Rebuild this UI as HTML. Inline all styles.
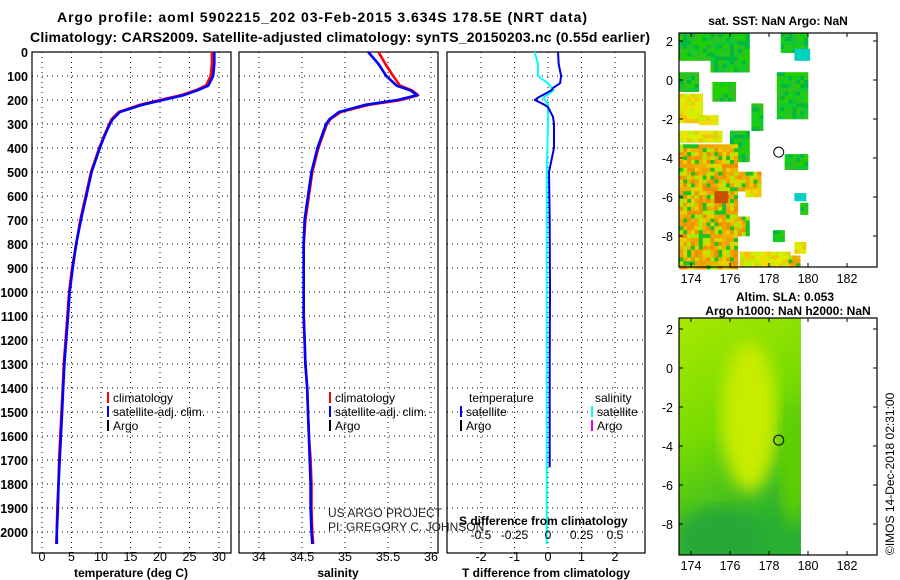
<!DOCTYPE html>
<html><head><meta charset="utf-8"><style>
body{margin:0;background:#fff}
svg{display:block;font-family:"Liberation Sans",sans-serif}
.b{font-weight:bold;font-size:12px}
</style></head><body>
<svg id="c" width="900" height="580" viewBox="0 0 900 580">
<defs>
<linearGradient id="g2" x1="0" y1="0" x2="0.3" y2="1"><stop offset="0" stop-color="#a8e800"/><stop offset="0.5" stop-color="#78dc00"/><stop offset="1" stop-color="#28b030"/></linearGradient>
<filter id="bl"><feGaussianBlur stdDeviation="8"/></filter>
<clipPath id="m2c"><rect x="679" y="318" width="122" height="237"/></clipPath>
</defs>
<text x="57" y="22" class="b" style="font-size:14px" textLength="530">Argo profile: aoml 5902215_202 03-Feb-2015 3.634S 178.5E (NRT data)</text>
<text x="30" y="42" class="b" style="font-size:14px" textLength="620">Climatology: CARS2009. Satellite-adjusted climatology: synTS_20150203.nc (0.55d earlier)</text>
<g id="plots"></g>
</svg>
<script>
// ---- data ----
const depthT = [0,50,100,140,160,180,200,220,250,280,300,350,400,500,600,700,800,900,1000,1100,1200,1300,1400,1500,1600,1700,1800,1900,2000,2050];
const tempSat = [29.2,29.2,29.0,28.2,26.3,24.0,20.5,17.0,13.2,12.0,11.5,10.6,9.8,8.4,7.5,6.6,5.8,5.2,4.7,4.4,4.1,3.8,3.6,3.4,3.2,3.0,2.8,2.7,2.5,2.5];
const tempClim = [28.8,28.8,28.6,27.8,26.0,23.6,20.0,16.6,13.0,11.8,11.4,10.5,9.7,8.3,7.4,6.5,5.8,5.1,4.6,4.3,4.0,3.7,3.5,3.3,3.1,2.9,2.8,2.6,2.5,2.4];
const salSat = [35.27,35.39,35.48,35.6,35.76,35.84,35.61,35.24,34.93,34.82,34.78,34.73,34.68,34.61,34.57,34.53,34.52,34.52,34.52,34.52,34.53,34.54,34.56,34.57,34.58,34.59,34.6,34.6,34.61,34.62];
const salClim = [35.39,35.47,35.56,35.64,35.78,35.85,35.65,35.28,34.95,34.83,34.79,34.74,34.69,34.62,34.58,34.54,34.52,34.52,34.52,34.52,34.53,34.54,34.56,34.57,34.58,34.6,34.61,34.61,34.62,34.63];
const depthD = [0,50,100,130,150,160,190,200,220,230,270,300,400,500,700,1000,1300,1500,1730];
const tDiff = [0.3,0.32,0.39,0.36,0.15,0.1,-0.3,-0.39,-0.1,0.0,0.15,0.18,0.18,0.03,0.05,0.06,0.05,0.05,0.05];
const depthS = [0,50,100,130,160,190,220,300,500,1000,1500,2050];
const sDiff = [-0.1,-0.075,-0.075,0,0.04,-0.035,0,0,-0.01,-0.01,-0.01,-0.01];
const depthTicks = [0,100,200,300,400,500,600,700,800,900,1000,1100,1200,1300,1400,1500,1600,1700,1800,1900,2000];
const tempTicks = [0,5,10,15,20,25,30];
const salTicks = [34,34.5,35,35.5,36];
const tdTicks = [-2,-1,0,1,2];
const sdTicks = [-0.5,-0.25,0,0.25,0.5];
const lonTicks = [174,176,178,180,182];
const latTicks = [2,0,-2,-4,-6,-8];

// ---- scales ----
const yD = d => 52 + d*0.24;
const xT = t => 42 + t*5.9;
const xS = s => 259 + (s-34)*86;
const xTD = v => 548 + v*33.5;
const xSD = v => 548 + v*134;
const mx = l => 691 + (l-174)*19.5;
const my1 = a => 80 - a*19.5;
const my2 = a => 368 - a*19.5;

const NS="http://www.w3.org/2000/svg";
const G=document.getElementById('plots');
function el(tag,attrs,parent){const e=document.createElementNS(NS,tag);for(const k in attrs)e.setAttribute(k,attrs[k]);(parent||G).appendChild(e);return e;}
function txt(x,y,s,attrs,parent){const e=el('text',Object.assign({x:x,y:y,'font-size':12,'font-weight':'bold'},attrs||{}),parent);e.textContent=s;return e;}

const Y0=52,Y1=553;
const panels=[[32,231,'temperature-panel'],[239,438,'salinity-panel'],[447,645,'difference-panel']];
panels.forEach(p=>{
  const r=el('rect',{x:p[0],y:Y0,width:p[1]-p[0],height:Y1-Y0,fill:'none',stroke:'#000','stroke-width':1.2});
  
  
  depthTicks.forEach(d=>{
    const l=el('line',{x1:p[0],x2:p[1],y1:yD(d),y2:yD(d),stroke:'#000','stroke-dasharray':'1,4'});
    
    
  });
});
depthTicks.forEach(d=>{
  const t=txt(28,yD(d)+5,String(d),{'text-anchor':'end','font-size':12.5});
  
  
});
function vgrid(ticks,fx,labels){
  ticks.forEach(v=>{
    const l=el('line',{x1:fx(v),x2:fx(v),y1:Y0,y2:Y1,stroke:'#000','stroke-dasharray':'1,4'});
    
    
    if(labels){const t=txt(fx(v),561,String(v),{'text-anchor':'middle','font-weight':'normal','font-size':12.5});
      
      }
  });
}
vgrid(tempTicks,xT,true);
vgrid(salTicks,xS,true);
vgrid(tdTicks,xTD,true);
[[131,'temperature (deg C)','temperature-axis-title'],[338,'salinity','salinity-axis-title'],[546,'T difference from climatology','t-difference-axis-title']].forEach(a=>{
  const t=txt(a[0],577,a[1],{'text-anchor':'middle'});
  
  
});
function line(xs,ds,fx,color,name,w){
  const pts=ds.map((d,i)=>fx(xs[i]).toFixed(1)+','+yD(d).toFixed(1)).join(' ');
  const p=el('polyline',{points:pts,fill:'none',stroke:color,'stroke-width':w||2.6,'stroke-linejoin':'round'});
  
  
}
line(tempClim,depthT,xT,'#f00','temperature-climatology-line');
line(tempSat,depthT,xT,'#00f','temperature-satellite-line');
line(salClim,depthT,xS,'#f00','salinity-climatology-line');
line(salSat,depthT,xS,'#00f','salinity-satellite-line');
line(sDiff,depthS,xSD,'#0ff','s-difference-line',2);
line(tDiff,depthD,xTD,'#00d','t-difference-line',2);

// legends
function leg(x,y,color,s,name){
  const l=el('line',{x1:x,x2:x,y1:y-10,y2:y+1,stroke:color,'stroke-width':2});
  
  
  const t=txt(x+5,y,s,{'font-weight':'normal'});
  
  
}
leg(108,402,'#f00','climatology','legend-climatology');
leg(108,416,'#00f','satellite-adj. clim.','legend-satellite-adj');
leg(108,430,'#000','Argo','legend-argo');
leg(330,402,'#f00','climatology','legend-climatology-sal');
leg(330,416,'#00f','satellite-adj. clim.','legend-satellite-adj-sal');
leg(330,430,'#000','Argo','legend-argo-sal');
leg(461,416,'#00f','satellite','legend-t-satellite');
leg(461,430,'#000','Argo','legend-t-argo');
leg(592,416,'#0ff','satellite','legend-s-satellite');
leg(592,430,'#e0e','Argo','legend-s-argo');
let t;
t=txt(469,402,'temperature',{'font-weight':'normal'});
t=txt(595,402,'salinity',{'font-weight':'normal'});
t=txt(328,517,'US ARGO PROJECT',{'font-weight':'normal','fill':'#222'});
t=txt(328,531,'PI: GREGORY C. JOHNSON',{'font-weight':'normal','fill':'#222'});
t=txt(459,525,'S difference from climatology',{});
sdTicks.forEach(v=>{t=txt(xSD(v),539,String(v),{'text-anchor':'middle','font-weight':'normal'});
  });

// ---- map 1 (SST) ----
const M1=el('g',{});


const pal={g:['#10c830','#00b840','#20d000','#30c020'],y:['#f0e000','#d8f000','#f0c800','#c0f000'],o:['#f0a000','#f0b000','#e8d000','#f09000','#b0e800','#20c020'],c:['#00d0c0']};
const patches=[
 [173.4,175.6,2.4,1.1,'g'],[175.0,176.9,2.4,0.5,'g'],[178.6,180,2.4,1.5,'g'],[179.3,180,1.6,1.1,'c'],
 [173.4,174.3,0.4,-0.5,'g'],[175.1,176.3,-0.1,-1.1,'g'],[178.4,180,0.4,-1.9,'g'],[177.1,177.6,-1.2,-2.6,'g'],
 [173.4,174.5,-0.7,-1.8,'y'],[173.4,175.3,-1.8,-2.2,'y'],[174.4,175.4,-1.9,-2.3,'y'],
 [173.4,175.5,-2.6,-3.2,'y'],[176.0,176.9,-2.6,-4.2,'g'],[173.4,176.4,-3.3,-9.6,'o'],[176.4,177.5,-4.7,-5.6,'o'],
 [176.8,177.5,-5.6,-6.0,'y'],[176.4,176.9,-7.0,-8.0,'o'],[178.8,180,-3.8,-4.6,'g'],[179.3,179.8,-5.8,-6.2,'c'],
 [179.6,180,-6.3,-6.9,'g'],[178.2,178.8,-7.7,-8.3,'g'],[179.3,179.9,-8.3,-8.9,'y'],[176.5,179.0,-8.8,-9.6,'y'],[179.0,179.6,-9.0,-9.6,'o']
];
const cell=0.2;
patches.forEach((p,pi)=>{
  for(let lo=p[0];lo<p[1]-0.01;lo+=cell){for(let la=p[2];la>p[3]+0.01;la-=cell){
    const i=Math.round(lo*5),j=Math.round(la*5);const h=Math.abs(((i*7919)+(j*104729)+(i*j*31)+pi*613)%9973);
    const cs=pal[p[4]];const c=cs[h%cs.length];
    el('rect',{x:mx(lo).toFixed(1),y:my1(la).toFixed(1),width:4.2,height:4.2,fill:c},M1);
  }}
});
const sp=el('rect',{x:mx(175.2),y:my1(-5.7),width:14,height:12,fill:'#c85000'},M1);


const f1=el('rect',{x:679,y:33,width:198,height:234,fill:'none',stroke:'#000','stroke-width':1.2});


const c1=el('circle',{cx:mx(178.5),cy:my1(-3.7),r:5,fill:'none',stroke:'#000'});



// ---- map 2 (SLA) ----
const M2=el('g',{'clip-path':'url(#m2c)'});


el('rect',{x:679,y:318,width:122,height:237,fill:'url(#g2)'},M2);
el('ellipse',{cx:mx(177),cy:my2(-2.5),rx:28,ry:75,fill:'#c8ec00',filter:'url(#bl)'},M2);
el('ellipse',{cx:mx(175.5),cy:my2(-8.8),rx:45,ry:32,fill:'#28a838',filter:'url(#bl)'},M2);
el('ellipse',{cx:mx(179.3),cy:my2(-5),rx:14,ry:60,fill:'#60d000',filter:'url(#bl)'},M2);
const f2=el('rect',{x:679,y:318,width:198,height:237,fill:'none',stroke:'#000','stroke-width':1.2});


const c2=el('circle',{cx:mx(178.5),cy:my2(-3.7),r:5,fill:'none',stroke:'#000'});



function mapAxes(my,yTop,yBot,labY,name){
  lonTicks.forEach(l=>{
    el('line',{x1:mx(l),x2:mx(l),y1:yBot,y2:yBot-4,stroke:'#000'});
    el('line',{x1:mx(l),x2:mx(l),y1:yTop,y2:yTop+4,stroke:'#000'});
    const t=txt(mx(l),labY,String(l),{'text-anchor':'middle','font-weight':'normal','font-size':12.5});
    
    
  });
  latTicks.forEach(a=>{
    el('line',{x1:877,x2:873,y1:my(a),y2:my(a),stroke:'#000'});
    el('line',{x1:679,x2:683,y1:my(a),y2:my(a),stroke:'#000'});
    const t=txt(673,my(a)+5,String(a),{'text-anchor':'end','font-weight':'normal','font-size':12.5});
    
    
  });
}
mapAxes(my1,33,267,283,'sst-map');
mapAxes(my2,318,555,570,'sla-map');
t=txt(778,25,'sat. SST: NaN Argo: NaN',{'text-anchor':'middle'});
t=txt(785,301,'Altim. SLA: 0.053',{'text-anchor':'middle'});
t=txt(788,315,'Argo h1000: NaN h2000: NaN',{'text-anchor':'middle'});
t=txt(0,0,'\u00a9IMOS 14-Dec-2018 02:31:00',{'font-weight':'normal','font-size':12,'transform':'translate(894,555) rotate(-90)'});

</script>
</body></html>
